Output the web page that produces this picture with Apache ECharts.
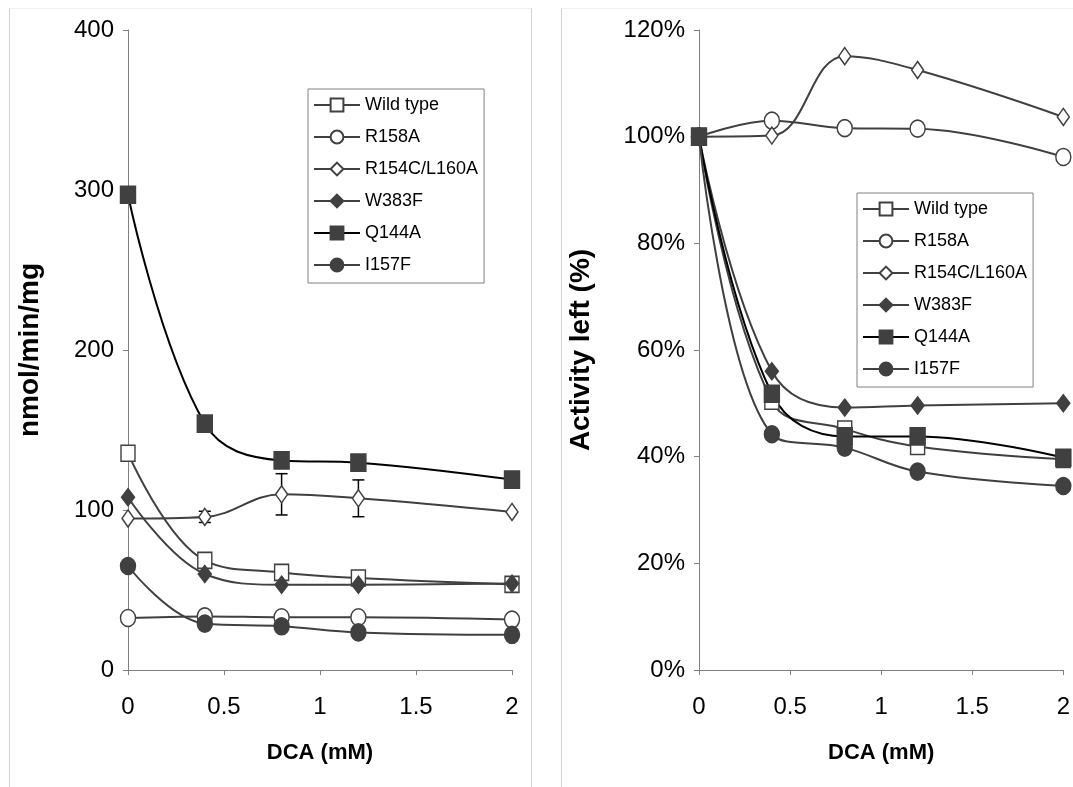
<!DOCTYPE html>
<html>
<head>
<meta charset="utf-8">
<title>DCA inhibition</title>
<script src="https://cdn.jsdelivr.net/npm/echarts@6/dist/echarts.min.js"></script>
<style>
  html, body { margin: 0; padding: 0; background: #fff; }
  .panel {
    position: absolute; top: 8px; bottom: -2px;
    border-top: 1px solid #efefef;
    border-left: 1px solid #d2d2d2;
    border-right: 1px solid #d2d2d2;
  }
  #panelLeft  { left: 9px;   width: 521px; }
  #panelRight { left: 561px; width: 530px; }
  .chart { position: absolute; top: 0; height: 787px; }
  #chartLeft  { left: 0;     width: 545px; }
  #chartRight { left: 545px; width: 528px; }
</style>
</head>
<body>
<div class="panel" id="panelLeft"></div>
<div class="panel" id="panelRight"></div>
<div class="chart" id="chartLeft"></div>
<div class="chart" id="chartRight"></div>
<script>
// ------------------------------ DATA ---------------------------------
var doseMm = [0, 0.4, 0.8, 1.2, 2];
var seriesNames = ['Wild type', 'R158A', 'R154C/L160A', 'W383F', 'Q144A', 'I157F'];

// left panel: specific activity, nmol/min/mg
var rateWildType = [135.5, 68.5, 61, 57.5, 53.5];
var rateR158a    = [32.5, 33.5, 33, 33, 31.5];
var rateR154c    = [94.7, 95.7, 109.8, 107.3, 98.8];
var rateW383f    = [108, 60, 53.3, 53.3, 54];
var rateQ144a    = [297, 154, 131, 129.6, 119];
var rateI157f    = [65, 29, 27.3, 23.5, 22];
var errR154c     = [0, 3.5, 12.9, 11.5, 0];

// right panel: activity left, %
var pctWildType = [100, 50.4, 45.2, 41.9, 39.5];
var pctR158a    = [100, 103, 101.6, 101.5, 96.2];
var pctR154c    = [100, 100.2, 115.1, 112.5, 103.7];
var pctW383f    = [100, 56, 49.2, 49.6, 50];
var pctQ144a    = [100, 51.8, 43.8, 43.8, 39.8];
var pctI157f    = [100, 44.2, 41.7, 37.2, 34.5];

var rateTicks = [0, 100, 200, 300, 400];
var pctTicks  = [0, 20, 40, 60, 80, 100, 120];
var doseTicks = [0, 0.5, 1, 1.5, 2];

// ----------------------------- STYLES --------------------------------
var NARROW = "'Liberation Sans Narrow', 'Liberation Sans', Arial, sans-serif";
var WIDE   = "'Liberation Sans', Arial, sans-serif";
var GREY   = '#404040';

var markerMap = [
  { symbol: 'rect',    size: [14, 16], fill: '#fff', line: GREY },
  { symbol: 'circle',  size: [15, 17], fill: '#fff', line: GREY },
  { symbol: 'diamond', size: [12, 17], fill: '#fff', line: GREY },
  { symbol: 'diamond', size: [13, 17], fill: GREY,   line: GREY },
  { symbol: 'rect',    size: [15, 17], fill: GREY,   line: '#000' },
  { symbol: 'circle',  size: [15, 17], fill: GREY,   line: GREY }
];

// ----------------------------- HELPERS -------------------------------
var pairUp = function (values) {
  return values.map(function (v, i) { return [doseMm[i], v]; });
};

var lineSeries = function (idx, values) {
  var m = markerMap[idx];
  return {
    name: seriesNames[idx],
    type: 'line',
    smooth: 0.4,
    data: pairUp(values),
    symbol: m.symbol,
    symbolSize: m.size,
    showAllSymbol: true,
    lineStyle: { color: m.line, width: 2 },
    itemStyle: { color: m.fill, borderColor: GREY, borderWidth: 1.5, opacity: 1 },
    emphasis: { disabled: true },
    z: 3
  };
};

var renderErrorBar = function (params, api) {
  var x = api.value(0), lo = api.value(1), hi = api.value(2);
  var top = api.coord([x, hi]), bot = api.coord([x, lo]);
  var cap = 6, st = { stroke: '#000', lineWidth: 1.5 };
  return {
    type: 'group',
    children: [
      { type: 'line', shape: { x1: top[0], y1: top[1], x2: bot[0], y2: bot[1] }, style: st },
      { type: 'line', shape: { x1: top[0] - cap, y1: top[1], x2: top[0] + cap, y2: top[1] }, style: st },
      { type: 'line', shape: { x1: bot[0] - cap, y1: bot[1], x2: bot[0] + cap, y2: bot[1] }, style: st }
    ]
  };
};

var buildOption = function (cfg) {
  var axisLine = { show: true, lineStyle: { color: '#808080', width: 1 } };
  var ticks = { show: true, length: 5, lineStyle: { color: '#808080' } };
  return {
    animation: false,
    grid: { left: cfg.gridLeft, width: cfg.gridWidth, top: 30, height: 640 },
    legend: {
      data: seriesNames,
      orient: 'vertical',
      left: cfg.legendLeft, top: cfg.legendTop,
      width: 160,
      padding: [6, 6, 8, 5],
      itemWidth: 46, itemHeight: 16, itemGap: 12,
      borderColor: '#808080', borderWidth: 1,
      backgroundColor: '#fff',
      selectedMode: false,
      textStyle: { fontFamily: NARROW, fontSize: 18, lineHeight: 20, color: '#000' }
    },
    xAxis: {
      type: 'value', min: 0, max: 2, interval: 0.5,
      name: 'DCA (mM)', nameLocation: 'middle', nameGap: 72,
      nameTextStyle: { fontFamily: WIDE, fontWeight: 'bold', fontSize: 22, color: '#000' },
      axisLine: axisLine, axisTick: ticks, splitLine: { show: false },
      axisLabel: {
        fontFamily: NARROW, fontSize: 24, color: '#000', margin: 25,
        formatter: function (v) { return doseTicks.indexOf(v) >= 0 ? String(v) : ''; }
      }
    },
    yAxis: {
      type: 'value', min: 0, max: cfg.yMax, interval: cfg.yStep,
      name: cfg.yName, nameLocation: 'middle', nameGap: cfg.yNameGap,
      nameTextStyle: { fontFamily: WIDE, fontWeight: 'bold', fontSize: 28, color: '#000' },
      axisLine: axisLine, axisTick: ticks, splitLine: { show: false },
      axisLabel: {
        fontFamily: NARROW, fontSize: 24, color: '#000', margin: 14,
        formatter: function (v) {
          return cfg.ticks.indexOf(v) >= 0 ? v + cfg.suffix : '';
        }
      }
    },
    series: cfg.series
  };
};

// ------------------------------ CHARTS -------------------------------
var leftSeries = [
  lineSeries(0, rateWildType), lineSeries(1, rateR158a), lineSeries(2, rateR154c),
  lineSeries(3, rateW383f), lineSeries(4, rateQ144a), lineSeries(5, rateI157f),
  {
    type: 'custom',
    renderItem: renderErrorBar,
    data: doseMm.map(function (d, i) {
      return [d, rateR154c[i] - errR154c[i], rateR154c[i] + errR154c[i]];
    }).filter(function (r) { return r[2] > r[1]; }),
    encode: { x: 0, y: [1, 2] },
    z: 2
  }
];

var rightSeries = [
  lineSeries(0, pctWildType), lineSeries(1, pctR158a), lineSeries(2, pctR154c),
  lineSeries(3, pctW383f), lineSeries(4, pctQ144a), lineSeries(5, pctI157f)
];

var chartLeft = echarts.init(document.getElementById('chartLeft'), null, { renderer: 'canvas' });
chartLeft.setOption(buildOption({
  gridLeft: 128, gridWidth: 384,
  legendLeft: 308, legendTop: 89,
  yMax: 400, yStep: 100, ticks: rateTicks, suffix: '',
  yName: 'nmol/min/mg', yNameGap: 84,
  series: leftSeries
}));

var chartRight = echarts.init(document.getElementById('chartRight'), null, { renderer: 'canvas' });
chartRight.setOption(buildOption({
  gridLeft: 154, gridWidth: 366,
  legendLeft: 312, legendTop: 193,
  yMax: 120, yStep: 20, ticks: pctTicks, suffix: '%',
  yName: 'Activity left (%)', yNameGap: 104,
  series: rightSeries
}));
</script>
</body>
</html>
